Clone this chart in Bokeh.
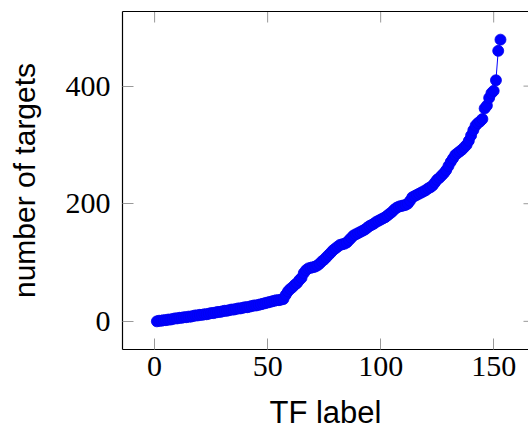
import math
from bokeh.plotting import figure
from bokeh.models import Range1d, LinearAxis, FixedTicker, ColumnDataSource
from bokeh.embed import file_html
from bokeh.resources import INLINE

tf_label = list(range(1, 154))
targets = [
    0, 1, 1, 2, 2, 3, 3, 4, 5, 5,
    6, 6, 7, 7, 8, 8, 9, 10, 10, 11,
    11, 12, 12, 13, 14, 14, 15, 16, 16, 17,
    18, 18, 19, 20, 20, 21, 22, 22, 23, 24,
    24, 25, 26, 27, 27, 28, 29, 30, 31, 32,
    33, 34, 35, 36, 36, 37, 38,
    45, 51, 55, 58, 62, 65, 70, 74, 82, 87, 90, 91, 92, 93, 95,
    98, 102, 105, 109, 113, 117, 121, 124, 127, 130, 131, 132, 134,
    138, 142, 146, 148, 150, 152, 154, 156, 159, 162, 164, 166, 169,
    171, 173, 175, 177, 180, 183, 186, 190, 193, 195, 196, 197, 198,
    200, 205, 211, 213, 215, 217, 219, 221, 223, 226, 228, 231, 236,
    241, 244, 248, 252, 257, 264, 271, 277, 283, 286, 289, 292, 296,
    300, 307, 316, 325, 333, 337, 340, 344, 362, 367, 380, 388, 392,
    410, 460, 479,
]
x_ticks = [0, 50, 100, 150]
y_ticks = [0, 200, 400]

src = ColumnDataSource(data=dict(x=tf_label, y=targets))

xr = Range1d(-14.2, 165.4)
yr = Range1d(-47.9, 526.9)

p = figure(
    frame_width=406, frame_height=338,
    x_range=xr, y_range=yr,
    output_backend="svg", toolbar_location=None,
    min_border_left=122, min_border_right=0, min_border_top=11, min_border_bottom=0,
    x_axis_label="TF label", y_axis_label="number of targets",
)
p.outline_line_color = None
p.grid.visible = False
p.background_fill_color = "white"
p.border_fill_color = "white"

# ticks on top and right edges (inward), computed from the tick lists and ranges
p.ray(x=x_ticks, y=[yr.end] * len(x_ticks), length=11, length_units="screen",
      angle=-math.pi / 2, line_color="#999999", line_width=1)
p.ray(x=[xr.end] * len(y_ticks), y=y_ticks, length=5, length_units="screen",
      angle=math.pi, line_color="#999999", line_width=1)

p.line("x", "y", source=src, line_color="#0000ff", line_width=1)
p.scatter("x", "y", source=src, size=11, fill_color="#0000ff", line_color="#0000ee", line_width=0.8)

serif = "Liberation Serif"
sans = "Liberation Sans"

def style(ax, ticks):
    ax.ticker = FixedTicker(ticks=ticks)
    ax.minor_tick_line_color = None
    ax.major_tick_in = 11
    ax.major_tick_out = 0
    ax.major_tick_line_color = "#999999"
    ax.major_tick_line_width = 1
    ax.axis_line_color = "black"
    ax.axis_line_width = 1.2
    ax.major_label_text_font = serif
    ax.major_label_text_font_size = "30px"
    ax.major_label_text_color = "black"
    ax.axis_label_text_font = sans
    ax.axis_label_text_font_size = "31px"
    ax.axis_label_text_font_style = "normal"
    ax.axis_label_text_color = "black"

xa = p.xaxis[0]
ya = p.yaxis[0]
style(xa, x_ticks)
style(ya, y_ticks)
ya.axis_label_text_font_size = "30px"
xa.major_label_standoff = 7
xa.axis_label_standoff = 16
ya.major_label_standoff = 12
ya.axis_label_standoff = 22

# top frame line only
top = LinearAxis(ticker=FixedTicker(ticks=[]))
top.axis_line_color = "black"
top.axis_line_width = 1.2
top.major_tick_line_color = None
top.minor_tick_line_color = None
top.major_label_standoff = 0
p.add_layout(top, "above")

open("out.html", "w").write(file_html(p, INLINE))
